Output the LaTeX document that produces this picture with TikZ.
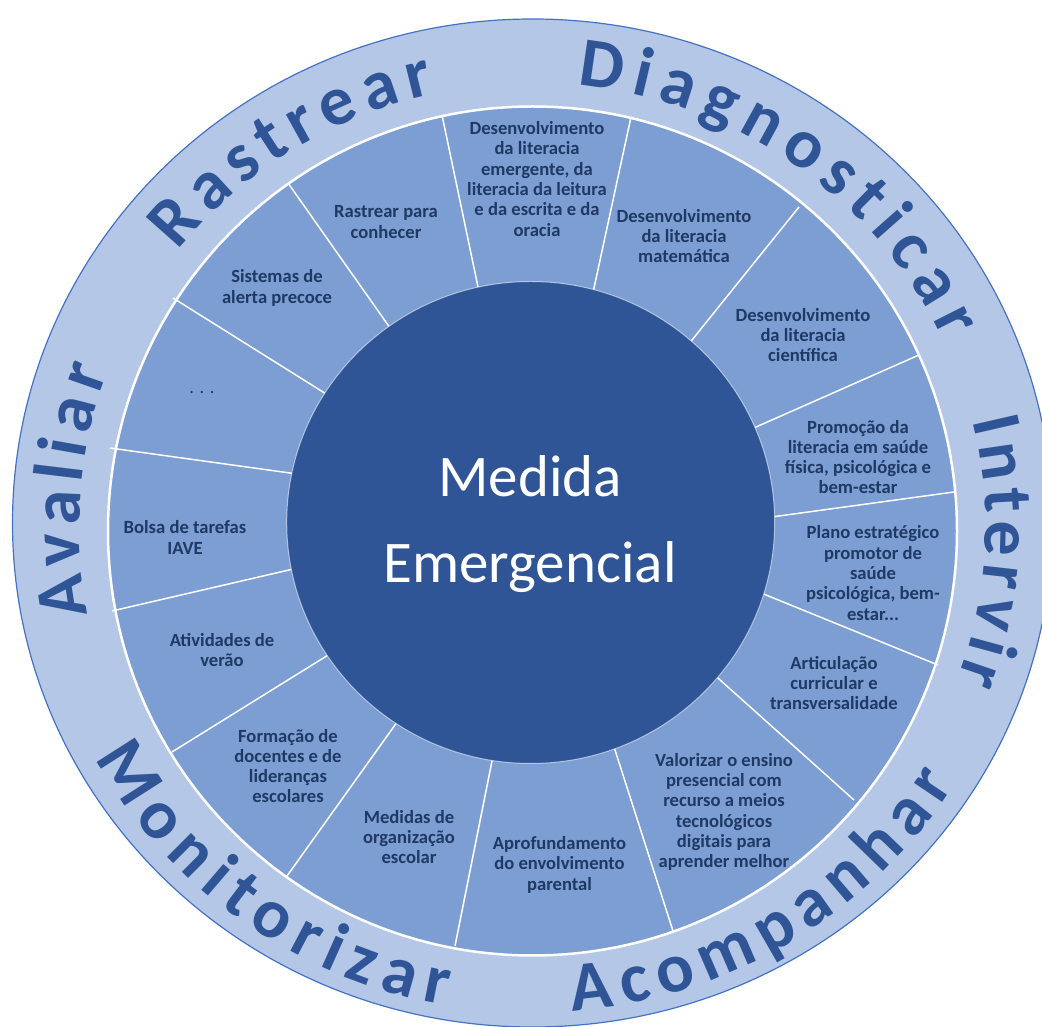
\documentclass[tikz,border=0pt]{standalone}
\usepackage{fontspec}
\setmainfont{Carlito}
\usetikzlibrary{decorations.text,calc}
\definecolor{ringfill}{HTML}{B4C7E7}
\definecolor{ringedge}{HTML}{4472C4}
\definecolor{segfill}{HTML}{7C9ED3}
\definecolor{corefill}{HTML}{2F5597}
\definecolor{ringtext}{HTML}{2F5597}
\definecolor{labeltext}{HTML}{1F3864}

\begin{document}
\begin{tikzpicture}[x=1pt,y=1pt,
  divider/.style={draw=white, line width=1.5pt},
  seglabel/.style={align=center, text=labeltext, inner sep=0pt,
    font=\fontsize{18.6}{20.3}\selectfont\bfseries},
  ringword/.style={decorate, decoration={text along path,
    text align=fit to path, text color=ringtext,
    text={|\fontsize{70}{80}\selectfont\bfseries|#1}}},
]
\useasboundingbox (0,0) rectangle (1042,1026);
\clip (0,0) rectangle (1042,1026);

% centres of the outer ring, the segment ring, the core and the ring lettering
\coordinate (oc) at (532.5,503);
\coordinate (sc) at (532.5,495);
\coordinate (cc) at (530.7,503.5);
\coordinate (tc) at (532.5,499);

% outer ring
\filldraw[fill=ringfill, draw=ringedge, line width=1.2pt]
  (oc) ellipse [x radius=520pt, y radius=504pt];

% segment ring
\filldraw[fill=segfill, draw=white, line width=2.5pt]
  (sc) circle [radius=424.5pt];

% dividers between the segments (inner end, outer end)
\foreach \xa/\ya/\xb/\yb in {
  478/739/442/911, 594/738/631/909, 692/686/799/819, 756/599/919/671,
  779/510/954/534, 766/431/938/361, 719/347/854/226, 615/276/673/95,
  492/265/455/80,  395/301/287/150, 325/369/172/274, 289/456/112/415,
  290/553/110/578, 323/634/173/728, 388/701/288/843}
  \draw[divider] ($(\xa,\ya)!-8pt!(\xb,\yb)$) -- (\xb,\yb);

% core
\filldraw[fill=corefill, draw=white, draw opacity=0.55, line width=1pt]
  (cc) ellipse [x radius=244pt, y radius=241pt];
\node[anchor=base, text=white, font=\fontsize{59}{70}\selectfont, inner sep=0pt]
  (medida) at (530,529) {Medida};
\node[anchor=base, text=white, font=\fontsize{59}{70}\selectfont, inner sep=0pt]
  (emergencial) at (530,443) {Emergencial};

% segment labels
\node[seglabel] (l1) at (537,847) {Desenvolvimento\\da literacia\\emergente, da\\literacia da leitura\\e da escrita e da\\oracia};
\node[seglabel] (l2) at (684,790) {Desenvolvimento\\da literacia\\matemática};
\node[seglabel] (l3) at (803,691) {Desenvolvimento\\da literacia\\científica};
\node[seglabel] (l4) at (858,569) {Promoção da\\literacia em saúde\\física, psicológica e\\bem-estar};
\node[seglabel] (l5) at (873,453) {Plano estratégico\\promotor de\\saúde\\psicológica, bem-\\estar...};
\node[seglabel] (l6) at (834,343) {Articulação\\curricular e\\transversalidade};
\node[seglabel] (l7) at (724,214) {Valorizar o ensino\\presencial com\\recurso a meios\\tecnológicos\\digitais para\\aprender melhor};
\node[seglabel] (l8) at (559.5,161.3) {Aprofundamento\\do envolvimento\\parental};
\node[seglabel] (l9) at (409,189) {Medidas de\\organização\\escolar};
\node[seglabel] (l10) at (288,260) {Formação de\\docentes e de\\lideranças\\escolares};
\node[seglabel] (l11) at (222,376) {Atividades de\\verão};
\node[seglabel] (l12) at (185,488.5) {Bolsa de tarefas\\IAVE};
\node[seglabel, font=\fontsize{18.6}{20.3}\selectfont] (l13) at (202,633) {. . .};
\node[seglabel] (l14) at (277,738) {Sistemas de\\alerta precoce};
\node[seglabel] (l15) at (386,804) {Rastrear para\\conhecer};

% lettering around the ring
\path[ringword=Rastrear] ($(tc)+(141.5:453pt and 444pt)$)
  arc[start angle=141.5, end angle=102.5, x radius=453pt, y radius=444pt];
\path[ringword=Diagnosticar] ($(tc)+(84.3:453pt and 444pt)$)
  arc[start angle=84.3, end angle=24.8, x radius=453pt, y radius=444pt];
\path[ringword=Intervir] ($(tc)+(13.9:453pt and 444pt)$)
  arc[start angle=13.9, end angle=-20.2, x radius=453pt, y radius=444pt];
\path[ringword=Avaliar] ($(tc)+(191.4:453pt and 444pt)$)
  arc[start angle=191.4, end angle=159.5, x radius=453pt, y radius=444pt];
\path[ringword=Acompanhar] ($(tc)+(-85.4:497pt and 486pt)$)
  arc[start angle=-85.4, end angle=-32, x radius=497pt, y radius=486pt];
\path[ringword=Monitorizar] ($(tc)+(208.4:497pt and 486pt)$)
  arc[start angle=208.4, end angle=259.9, x radius=497pt, y radius=486pt];
\end{tikzpicture}
\end{document}
